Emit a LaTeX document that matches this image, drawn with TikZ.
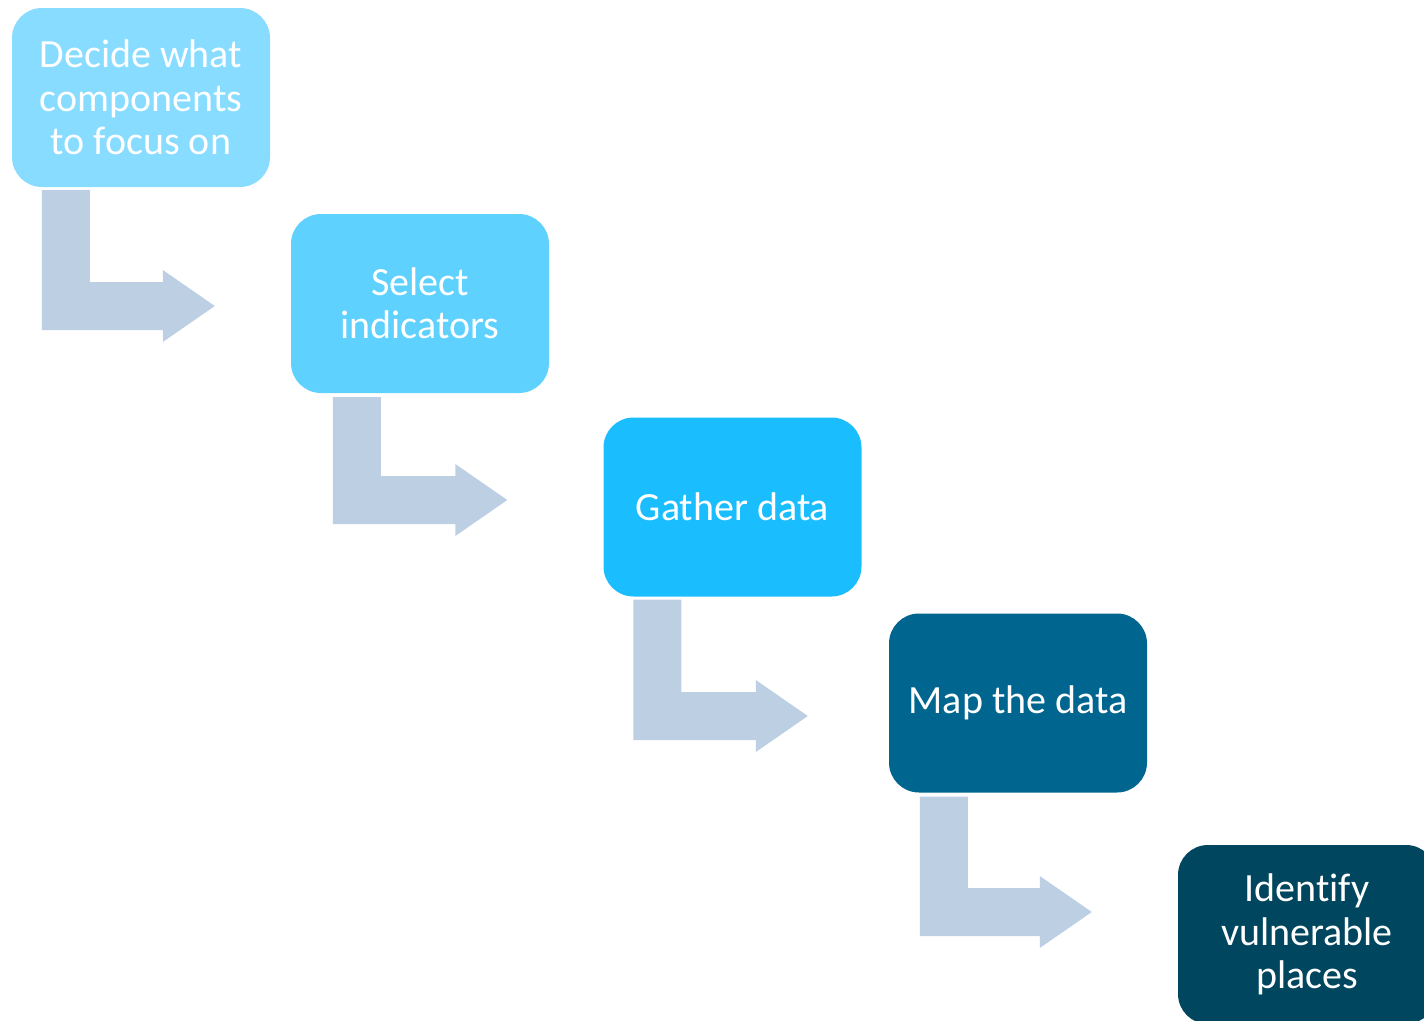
\documentclass[tikz,border=0pt]{standalone}
\usepackage{fontspec}
\setmainfont[Ligatures=NoCommon]{Carlito}
\usetikzlibrary{calc}

\definecolor{stepA}{HTML}{87DCFF}
\definecolor{stepB}{HTML}{5FD1FE}
\definecolor{stepC}{HTML}{1ABEFF}
\definecolor{stepD}{HTML}{00668F}
\definecolor{stepE}{HTML}{00465E}
\definecolor{arrowfill}{HTML}{BCCFE3}

\tikzset{
  stepbox/.style={rounded corners=30, minimum width=258, minimum height=179,
    inner sep=0pt, align=center, text=white,
    font=\fontsize{40}{43.5}\selectfont},
  flowarrow/.style={fill=arrowfill}
}

% L-shaped block arrow: vertical stem from #1 down, then right to the tip #2
\newcommand{\bendarrow}[2]{%
  \fill[flowarrow] (#1) -- ($(#1)+(48,0)$) -- ($(#1 |- #2)+(48,-24)$)
    -- ($(#2)+(-52,-24)$) -- ($(#2)+(-52,-36)$) -- (#2)
    -- ($(#2)+(-52,36)$) -- ($(#2)+(-52,24)$) -- ($(#1 |- #2)+(0,24)$) -- cycle;}

\begin{document}
\begin{tikzpicture}[x=1pt, y=-1pt]
  \useasboundingbox (0,0) rectangle (1424,1020);
  \clip (0,0) rectangle (1424,1020);

  \node[stepbox, fill=stepA] (b1) at (141,97.5) {Decide what\\components\\to focus on};
  \node[stepbox, fill=stepB] (b2) at (420,303.5) {Select\\indicators};
  \node[stepbox, fill=stepC] (b3) at (732.5,507) {Gather data};
  \node[stepbox, fill=stepD] (b4) at (1018,703) {Map the data};
  \node[stepbox, fill=stepE] (b5) at (1307,934.5) {Identify\\vulnerable\\places};

  \coordinate (s1) at ($(b1.south west)+(30,3)$);
  \coordinate (t1) at ($(b2.west)+(-76,2.5)$);
  \coordinate (s2) at ($(b2.south west)+(42,4)$);
  \coordinate (t2) at ($(b3.west)+(-96,-7)$);
  \coordinate (s3) at ($(b3.south west)+(30,3)$);
  \coordinate (t3) at ($(b4.west)+(-81,13)$);
  \coordinate (s4) at ($(b4.south west)+(31,4)$);
  \coordinate (t4) at ($(b5.west)+(-86,-22.5)$);

  \bendarrow{s1}{t1}
  \bendarrow{s2}{t2}
  \bendarrow{s3}{t3}
  \bendarrow{s4}{t4}
\end{tikzpicture}
\end{document}
